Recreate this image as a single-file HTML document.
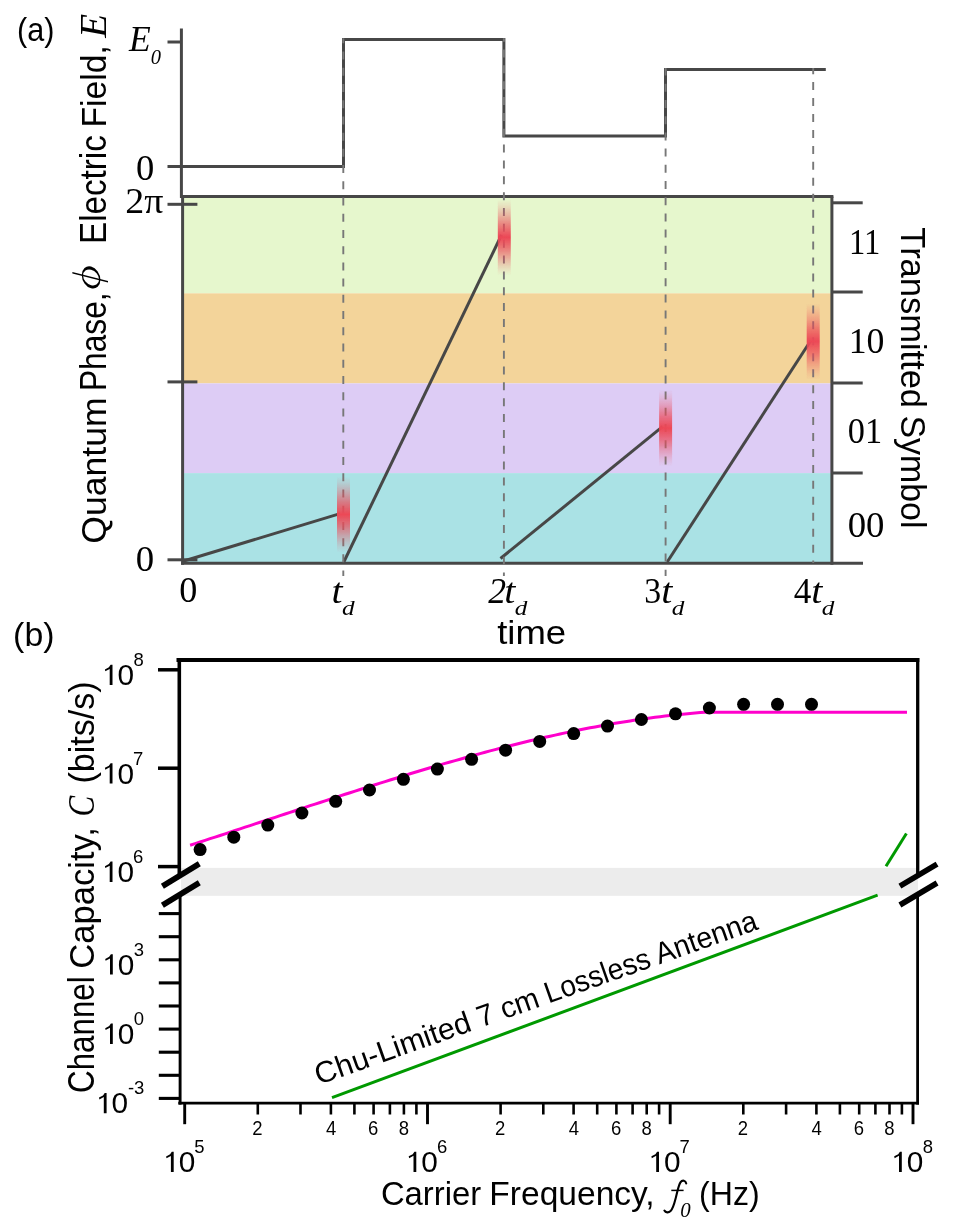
<!DOCTYPE html>
<html><head><meta charset="utf-8"><title>figure</title>
<style>html,body{margin:0;padding:0;background:#fff}svg{display:block}text{font-family:"Liberation Sans",sans-serif}</style>
</head><body>
<svg width="977" height="1221" viewBox="0 0 977 1221">
<defs>
<linearGradient id="rg" x1="0" y1="0" x2="0" y2="1"><stop offset="0" stop-color="#ec4856" stop-opacity="0"/><stop offset="0.1" stop-color="#ec4856" stop-opacity="0.15"/><stop offset="0.2" stop-color="#ec4856" stop-opacity="0.35"/><stop offset="0.35" stop-color="#ec4856" stop-opacity="0.7"/><stop offset="0.5" stop-color="#ec4856" stop-opacity="1.0"/><stop offset="0.65" stop-color="#ec4856" stop-opacity="0.7"/><stop offset="0.8" stop-color="#ec4856" stop-opacity="0.35"/><stop offset="0.9" stop-color="#ec4856" stop-opacity="0.15"/><stop offset="1" stop-color="#ec4856" stop-opacity="0"/></linearGradient>
<filter id="bl" x="-50%" y="-10%" width="200%" height="120%"><feGaussianBlur stdDeviation="0.45 0.1"/></filter>
<clipPath id="boxa"><rect x="182" y="198" width="650" height="365"/></clipPath>
</defs>
<rect x="182" y="196.4" width="650" height="96.9" fill="#e6f7cd"/>
<rect x="182" y="293.3" width="650" height="90.1" fill="#f3d49a"/>
<rect x="182" y="383.4" width="650" height="89.7" fill="#ddccf5"/>
<rect x="182" y="473.1" width="650" height="89.6" fill="#aae2e5"/>
<line x1="183.0" y1="561.3" x2="340.0" y2="513.6" stroke="#474747" stroke-width="3.0"/>
<line x1="343.8" y1="562.0" x2="501.5" y2="235.0" stroke="#474747" stroke-width="3.0"/>
<line x1="500.5" y1="558.5" x2="662.5" y2="426.7" stroke="#474747" stroke-width="3.0"/>
<line x1="667.2" y1="562.0" x2="810.5" y2="341.0" stroke="#474747" stroke-width="3.0"/>
<g stroke="#474747" stroke-width="3.0" fill="none">
<line x1="181.4" y1="28.5" x2="181.4" y2="197.9"/>
<line x1="182.6" y1="195.2" x2="182.6" y2="564.7"/>
<line x1="180" y1="196.5" x2="833.4" y2="196.5"/>
<line x1="831.9" y1="196.5" x2="831.9" y2="564.7"/>
<line x1="181.1" y1="563.2" x2="863" y2="563.2"/>
</g>
<g stroke="#474747" stroke-width="3.0" fill="none">
<line x1="167.5" y1="42" x2="182" y2="42"/>
<polyline points="167.5,166.5 343.5,166.5 343.5,39.5 503.9,39.5 503.9,136 665.5,136 665.5,69.4 825.8,69.4"/>
<line x1="167.5" y1="204.3" x2="197.4" y2="204.3"/>
<line x1="167.5" y1="381.9" x2="197.4" y2="381.9"/>
<line x1="167.5" y1="559.8" x2="197.4" y2="559.8"/>
<line x1="832" y1="202.8" x2="862.7" y2="202.8"/>
<line x1="832" y1="292.0" x2="862.7" y2="292.0"/>
<line x1="832" y1="383.0" x2="862.7" y2="383.0"/>
<line x1="832" y1="473.0" x2="862.7" y2="473.0"/>
</g>
<line x1="343.3" y1="38.2" x2="343.3" y2="576.0" stroke="#777" stroke-width="1.9" stroke-dasharray="8 8.22" stroke-dashoffset="2.88"/>
<line x1="503.9" y1="38.2" x2="503.9" y2="576.0" stroke="#777" stroke-width="1.9" stroke-dasharray="8 7.85" stroke-dashoffset="4.55"/>
<line x1="665.6" y1="68.1" x2="665.6" y2="576.0" stroke="#777" stroke-width="1.9" stroke-dasharray="8 8.20" stroke-dashoffset="0.50"/>
<line x1="813.2" y1="68.1" x2="813.2" y2="563.0" stroke="#777" stroke-width="1.9" stroke-dasharray="8 7.95" stroke-dashoffset="1.95"/>
<rect x="337.0" y="476.5" width="13" height="76" fill="url(#rg)" filter="url(#bl)" clip-path="url(#boxa)"/>
<rect x="497.8" y="199.3" width="13" height="76" fill="url(#rg)" filter="url(#bl)" clip-path="url(#boxa)"/>
<rect x="659.1" y="390.1" width="13" height="76" fill="url(#rg)" filter="url(#bl)" clip-path="url(#boxa)"/>
<rect x="806.7" y="303.4" width="13" height="76" fill="url(#rg)" filter="url(#bl)" clip-path="url(#boxa)"/>
<g transform="translate(91.1,277.45) matrix(1,0.25,0,1,0,0)"><path fill="#000" fill-rule="evenodd" d="M-9.3,0 a9.3,10.9 0 1,0 18.6,0 a9.3,10.9 0 1,0 -18.6,0 Z M-8.0,0 a8.0,7.7 0 1,0 16.0,0 a8.0,7.7 0 1,0 -16.0,0 Z"/><line x1="-18.7" y1="0" x2="16.9" y2="0" stroke="#000" stroke-width="1.5"/></g>
<path d="M686.2,1183.4 C685.6,1180.4 682.4,1179.6 680.6,1182.2 C678.4,1185.4 677.6,1191 676,1197 C674.4,1203.2 673.2,1208.6 670.6,1211 C668.6,1212.9 665.6,1212.8 664.4,1210.6" fill="none" stroke="#000" stroke-width="2.1" stroke-linecap="round"/>
<line x1="671.3" y1="1190.4" x2="683.6" y2="1190.4" stroke="#000" stroke-width="1.5"/>
<rect x="181" y="867.9" width="737" height="27.9" fill="#ececec"/>
<polyline points="190.1,845.2 195.1,843.6 200.1,842.0 205.1,840.4 210.1,838.7 215.1,837.1 220.1,835.5 225.1,833.8 230.1,832.2 235.1,830.5 240.1,828.9 245.1,827.2 250.1,825.6 255.1,823.9 260.1,822.3 265.1,820.6 270.1,819.0 275.1,817.3 280.1,815.6 285.1,814.0 290.1,812.3 295.1,810.7 300.1,809.0 305.1,807.4 310.1,805.7 315.1,804.1 320.1,802.5 325.1,800.8 330.1,799.2 335.1,797.6 340.1,795.9 345.1,794.3 350.1,792.7 355.1,791.1 360.1,789.5 365.1,787.9 370.1,786.3 375.1,784.7 380.1,783.1 385.1,781.6 390.1,780.0 395.1,778.5 400.1,776.9 405.1,775.4 410.1,773.8 415.1,772.3 420.1,770.8 425.1,769.3 430.1,767.8 435.1,766.4 440.1,764.9 445.1,763.4 450.1,762.0 455.1,760.6 460.1,759.2 465.1,757.7 470.1,756.4 475.1,755.0 480.1,753.6 485.1,752.3 490.1,750.9 495.1,749.6 500.1,748.3 505.1,747.0 510.1,745.8 515.1,744.5 520.1,743.3 525.1,742.0 530.1,740.8 535.1,739.6 540.1,738.5 545.1,737.3 550.1,736.2 555.1,735.1 560.1,734.0 565.1,732.9 570.1,731.9 575.1,730.8 580.1,729.8 585.1,728.8 590.1,727.8 595.1,726.9 600.1,726.0 605.1,725.1 610.1,724.2 615.1,723.3 620.1,722.5 625.1,721.7 630.1,720.9 635.1,720.1 640.1,719.4 645.1,718.7 650.1,718.0 655.1,717.3 660.1,716.7 665.1,716.1 670.1,715.5 675.1,714.9 680.1,714.4 685.1,713.9 690.1,713.4 695.1,713.0 700.1,712.6 705,712.3 907,712.3" fill="none" stroke="#ff00cc" stroke-width="3.0" stroke-linejoin="round"/>
<line x1="332" y1="1097.7" x2="877.6" y2="895.2" stroke="#009900" stroke-width="3.0"/>
<line x1="886" y1="866.3" x2="906.4" y2="833.5" stroke="#009900" stroke-width="3.0"/>
<circle cx="200.1" cy="849.6" r="6.5" fill="#000"/>
<circle cx="233.8" cy="837.2" r="6.5" fill="#000"/>
<circle cx="267.8" cy="825.1" r="6.5" fill="#000"/>
<circle cx="301.9" cy="813.0" r="6.5" fill="#000"/>
<circle cx="335.7" cy="801.3" r="6.5" fill="#000"/>
<circle cx="369.5" cy="790.0" r="6.5" fill="#000"/>
<circle cx="403.4" cy="779.3" r="6.5" fill="#000"/>
<circle cx="437.4" cy="769.1" r="6.5" fill="#000"/>
<circle cx="471.6" cy="759.3" r="6.5" fill="#000"/>
<circle cx="505.6" cy="750.2" r="6.5" fill="#000"/>
<circle cx="539.7" cy="741.4" r="6.5" fill="#000"/>
<circle cx="573.7" cy="733.6" r="6.5" fill="#000"/>
<circle cx="607.5" cy="726.1" r="6.5" fill="#000"/>
<circle cx="641.4" cy="719.5" r="6.5" fill="#000"/>
<circle cx="675.5" cy="713.8" r="6.5" fill="#000"/>
<circle cx="709.4" cy="708.0" r="6.5" fill="#000"/>
<circle cx="743.6" cy="704.3" r="6.5" fill="#000"/>
<circle cx="777.5" cy="704.3" r="6.5" fill="#000"/>
<circle cx="811.5" cy="704.3" r="6.5" fill="#000"/>
<g stroke="#000" fill="none">
<line x1="179.3" y1="658" x2="179.3" y2="877" stroke-width="3.6"/>
<line x1="176.5" y1="660" x2="919.3" y2="660" stroke-width="4"/>
<line x1="917.7" y1="658" x2="917.7" y2="876" stroke-width="3.3"/>
<line x1="158" y1="669.8" x2="179.3" y2="669.8" stroke-width="3.5"/>
<line x1="158" y1="768.2" x2="179.3" y2="768.2" stroke-width="3.5"/>
<line x1="158" y1="866.6" x2="179.3" y2="866.6" stroke-width="3.5"/>
<line x1="180.1" y1="894" x2="180.1" y2="1104.6" stroke-width="2.9"/>
<line x1="917.6" y1="893" x2="917.6" y2="1104.6" stroke-width="2.8"/>
<line x1="178.3" y1="1103.2" x2="919" y2="1103.2" stroke-width="2.8"/>
<line x1="158.8" y1="913.6" x2="180.1" y2="913.6" stroke-width="3.1"/>
<line x1="158.8" y1="936.7" x2="180.1" y2="936.7" stroke-width="3.1"/>
<line x1="158.8" y1="959.8" x2="180.1" y2="959.8" stroke-width="3.1"/>
<line x1="158.8" y1="982.9" x2="180.1" y2="982.9" stroke-width="3.1"/>
<line x1="158.8" y1="1006.0" x2="180.1" y2="1006.0" stroke-width="3.1"/>
<line x1="158.8" y1="1029.1" x2="180.1" y2="1029.1" stroke-width="3.1"/>
<line x1="158.8" y1="1052.2" x2="180.1" y2="1052.2" stroke-width="3.1"/>
<line x1="158.8" y1="1075.3" x2="180.1" y2="1075.3" stroke-width="3.1"/>
<line x1="158.8" y1="1098.4" x2="180.1" y2="1098.4" stroke-width="3.1"/>
<line x1="184.7" y1="1103" x2="184.7" y2="1124.2" stroke-width="2.9"/>
<line x1="427.5" y1="1103" x2="427.5" y2="1124.2" stroke-width="2.9"/>
<line x1="670.2" y1="1103" x2="670.2" y2="1124.2" stroke-width="2.9"/>
<line x1="913.0" y1="1103" x2="913.0" y2="1124.2" stroke-width="2.9"/>
<line x1="257.8" y1="1103" x2="257.8" y2="1114.5" stroke-width="2.6"/>
<line x1="300.5" y1="1103" x2="300.5" y2="1114.5" stroke-width="2.6"/>
<line x1="330.9" y1="1103" x2="330.9" y2="1114.5" stroke-width="2.6"/>
<line x1="354.4" y1="1103" x2="354.4" y2="1114.5" stroke-width="2.6"/>
<line x1="373.6" y1="1103" x2="373.6" y2="1114.5" stroke-width="2.6"/>
<line x1="389.9" y1="1103" x2="389.9" y2="1114.5" stroke-width="2.6"/>
<line x1="403.9" y1="1103" x2="403.9" y2="1114.5" stroke-width="2.6"/>
<line x1="416.4" y1="1103" x2="416.4" y2="1114.5" stroke-width="2.6"/>
<line x1="500.6" y1="1103" x2="500.6" y2="1114.5" stroke-width="2.6"/>
<line x1="543.3" y1="1103" x2="543.3" y2="1114.5" stroke-width="2.6"/>
<line x1="573.6" y1="1103" x2="573.6" y2="1114.5" stroke-width="2.6"/>
<line x1="597.2" y1="1103" x2="597.2" y2="1114.5" stroke-width="2.6"/>
<line x1="616.4" y1="1103" x2="616.4" y2="1114.5" stroke-width="2.6"/>
<line x1="632.6" y1="1103" x2="632.6" y2="1114.5" stroke-width="2.6"/>
<line x1="646.7" y1="1103" x2="646.7" y2="1114.5" stroke-width="2.6"/>
<line x1="659.1" y1="1103" x2="659.1" y2="1114.5" stroke-width="2.6"/>
<line x1="743.3" y1="1103" x2="743.3" y2="1114.5" stroke-width="2.6"/>
<line x1="786.1" y1="1103" x2="786.1" y2="1114.5" stroke-width="2.6"/>
<line x1="816.4" y1="1103" x2="816.4" y2="1114.5" stroke-width="2.6"/>
<line x1="839.9" y1="1103" x2="839.9" y2="1114.5" stroke-width="2.6"/>
<line x1="859.2" y1="1103" x2="859.2" y2="1114.5" stroke-width="2.6"/>
<line x1="875.4" y1="1103" x2="875.4" y2="1114.5" stroke-width="2.6"/>
<line x1="889.5" y1="1103" x2="889.5" y2="1114.5" stroke-width="2.6"/>
<line x1="901.9" y1="1103" x2="901.9" y2="1114.5" stroke-width="2.6"/>
</g>
<g stroke="#000" stroke-width="5.7" fill="none">
<line x1="162.40" y1="886.2" x2="199.30" y2="863.8"/>
<line x1="162.40" y1="905.2" x2="199.30" y2="882.8"/>
<line x1="899.90" y1="886.1" x2="937.05" y2="864.1"/>
<line x1="899.90" y1="905.0" x2="937.05" y2="883.0"/>
</g>
<g opacity="0.999">
<g transform="translate(18.90,40.90) rotate(0.00) scale(0.9000,1.0000)" fill="#000"><text x="-2.00" y="0" xml:space="preserve"><tspan font-family="'Liberation Sans', sans-serif" font-size="34" dy="0">(a)</tspan></text></g>
<g transform="translate(15.10,645.90) rotate(0.00) scale(0.9964,1.0000)" fill="#000"><text x="-2.00" y="0" xml:space="preserve"><tspan font-family="'Liberation Sans', sans-serif" font-size="34" dy="0">(b)</tspan></text></g>
<g transform="translate(105.80,241.20) rotate(-90.00) scale(0.9219,1.0000)" fill="#000"><text x="-3.00" y="0" xml:space="preserve"><tspan font-family="'Liberation Sans', sans-serif" font-size="36" dy="0">Electric</tspan></text></g>
<g transform="translate(105.80,124.60) rotate(-90.00) scale(0.9331,1.0000)" fill="#000"><text x="-3.00" y="0" xml:space="preserve"><tspan font-family="'Liberation Sans', sans-serif" font-size="36" dy="0">Field,</tspan></text></g>
<g transform="translate(106.00,38.20) rotate(-90.00) scale(1.0567,1.0000)" fill="#000"><text x="0.33" y="0" xml:space="preserve"><tspan font-family="'Liberation Serif', serif" font-size="37" font-style="italic" dy="0">E</tspan></text></g>
<g transform="translate(106.20,542.10) rotate(-90.00) scale(0.9896,1.0000)" fill="#000"><text x="-1.67" y="0" xml:space="preserve"><tspan font-family="'Liberation Sans', sans-serif" font-size="36" dy="0">Quantum</tspan></text></g>
<g transform="translate(106.20,388.40) rotate(-90.00) scale(0.8811,1.0000)" fill="#000"><text x="-3.00" y="0" xml:space="preserve"><tspan font-family="'Liberation Sans', sans-serif" font-size="36" dy="0">Phase,</tspan></text></g>
<g transform="translate(901.20,228.00) rotate(90.00) scale(0.9576,1.0000)" fill="#000"><text x="-0.67" y="0" xml:space="preserve"><tspan font-family="'Liberation Sans', sans-serif" font-size="36" dy="0">Transmitted</tspan></text></g>
<g transform="translate(901.20,417.00) rotate(90.00) scale(0.9414,1.0000)" fill="#000"><text x="-1.67" y="0" xml:space="preserve"><tspan font-family="'Liberation Sans', sans-serif" font-size="36" dy="0">Symbol</tspan></text></g>
<g transform="translate(497.90,644.20) rotate(0.00) scale(1.1072,1.0000)" fill="#000"><text x="-0.67" y="0" xml:space="preserve"><tspan font-family="'Liberation Sans', sans-serif" font-size="33" dy="0">time</tspan></text></g>
<g transform="translate(128.80,50.60) rotate(0.00) scale(0.9758,1.0000)" fill="#000"><text x="0.33" y="0" xml:space="preserve"><tspan font-family="'Liberation Serif', serif" font-size="36.5" font-style="italic" dy="0">E</tspan><tspan font-family="'Liberation Serif', serif" font-size="21" font-style="italic" dy="13">0</tspan></text></g>
<g transform="translate(137.30,179.70) rotate(0.00) scale(1.0021,1.0000)" fill="#000"><text x="-1.33" y="0" xml:space="preserve"><tspan font-family="'Liberation Serif', serif" font-size="36.5" dy="0">0</tspan></text></g>
<g transform="translate(126.90,213.00) rotate(0.00) scale(1.0398,1.0000)" fill="#000"><text x="-1.67" y="0" xml:space="preserve"><tspan font-family="'Liberation Serif', serif" font-size="36.5" dy="0">2π</tspan></text></g>
<g transform="translate(137.00,570.90) rotate(0.00) scale(1.0085,1.0000)" fill="#000"><text x="-1.33" y="0" xml:space="preserve"><tspan font-family="'Liberation Serif', serif" font-size="36.5" dy="0">0</tspan></text></g>
<g transform="translate(180.50,602.00) rotate(0.00) scale(0.9894,1.0000)" fill="#000"><text x="-1.33" y="0" xml:space="preserve"><tspan font-family="'Liberation Serif', serif" font-size="36.5" dy="0">0</tspan></text></g>
<g transform="translate(333.20,603.30) rotate(0.00) scale(1.0889,1.0000)" fill="#000"><text x="-1.67" y="0" xml:space="preserve"><tspan font-family="'Liberation Serif', serif" font-size="36.5" font-style="italic" dy="0">t</tspan></text></g>
<g transform="translate(342.70,614.50) rotate(0.00) scale(1.2000,1.0000)" fill="#000"><text x="-0.67" y="0" xml:space="preserve"><tspan font-family="'Liberation Serif', serif" font-size="21" font-style="italic" dy="0">d</tspan></text></g>
<g transform="translate(488.20,603.30) rotate(0.00) scale(0.9750,1.0000)" fill="#000"><text x="-0.00" y="0" xml:space="preserve"><tspan font-family="'Liberation Serif', serif" font-size="36.5" font-style="italic" dy="0">2</tspan></text></g>
<g transform="translate(506.10,603.30) rotate(0.00) scale(1.0889,1.0000)" fill="#000"><text x="-1.67" y="0" xml:space="preserve"><tspan font-family="'Liberation Serif', serif" font-size="36.5" font-style="italic" dy="0">t</tspan></text></g>
<g transform="translate(515.60,614.50) rotate(0.00) scale(1.2000,1.0000)" fill="#000"><text x="-0.67" y="0" xml:space="preserve"><tspan font-family="'Liberation Serif', serif" font-size="21" font-style="italic" dy="0">d</tspan></text></g>
<g transform="translate(645.70,603.30) rotate(0.00) scale(0.9267,1.0000)" fill="#000"><text x="-1.67" y="0" xml:space="preserve"><tspan font-family="'Liberation Serif', serif" font-size="36.5" dy="0">3</tspan></text></g>
<g transform="translate(663.10,603.30) rotate(0.00) scale(1.0889,1.0000)" fill="#000"><text x="-1.67" y="0" xml:space="preserve"><tspan font-family="'Liberation Serif', serif" font-size="36.5" font-style="italic" dy="0">t</tspan></text></g>
<g transform="translate(672.60,614.50) rotate(0.00) scale(1.2000,1.0000)" fill="#000"><text x="-0.67" y="0" xml:space="preserve"><tspan font-family="'Liberation Serif', serif" font-size="21" font-style="italic" dy="0">d</tspan></text></g>
<g transform="translate(794.30,603.30) rotate(0.00) scale(0.9647,1.0000)" fill="#000"><text x="-0.67" y="0" xml:space="preserve"><tspan font-family="'Liberation Serif', serif" font-size="36.5" dy="0">4</tspan></text></g>
<g transform="translate(813.00,603.30) rotate(0.00) scale(1.0889,1.0000)" fill="#000"><text x="-1.67" y="0" xml:space="preserve"><tspan font-family="'Liberation Serif', serif" font-size="36.5" font-style="italic" dy="0">t</tspan></text></g>
<g transform="translate(822.50,614.50) rotate(0.00) scale(1.2000,1.0000)" fill="#000"><text x="-0.67" y="0" xml:space="preserve"><tspan font-family="'Liberation Serif', serif" font-size="21" font-style="italic" dy="0">d</tspan></text></g>
<g transform="translate(852.00,254.40) rotate(0.00) scale(0.8933,1.0000)" fill="#000"><text x="-3.33" y="0" xml:space="preserve"><tspan font-family="'Liberation Serif', serif" font-size="36.5" dy="0">11</tspan></text></g>
<g transform="translate(852.00,352.80) rotate(0.00) scale(0.9789,1.0000)" fill="#000"><text x="-3.33" y="0" xml:space="preserve"><tspan font-family="'Liberation Serif', serif" font-size="36.5" dy="0">10</tspan></text></g>
<g transform="translate(849.00,442.50) rotate(0.00) scale(0.9394,1.0000)" fill="#000"><text x="-1.33" y="0" xml:space="preserve"><tspan font-family="'Liberation Serif', serif" font-size="36.5" dy="0">01</tspan></text></g>
<g transform="translate(849.00,537.40) rotate(0.00) scale(1.0069,1.0000)" fill="#000"><text x="-1.33" y="0" xml:space="preserve"><tspan font-family="'Liberation Serif', serif" font-size="36.5" dy="0">00</tspan></text></g>
<g transform="translate(93.90,1091.20) rotate(-90.00) scale(0.8699,1.0000)" fill="#000"><text x="-2.00" y="0" xml:space="preserve"><tspan font-family="'Liberation Sans', sans-serif" font-size="36" dy="0">Channel</tspan></text></g>
<g transform="translate(93.90,966.90) rotate(-90.00) scale(0.9618,1.0000)" fill="#000"><text x="-2.00" y="0" xml:space="preserve"><tspan font-family="'Liberation Sans', sans-serif" font-size="36" dy="0">Capacity,</tspan></text></g>
<g transform="translate(93.90,814.90) rotate(-90.00) scale(0.8348,1.0000)" fill="#000"><text x="-2.00" y="0" xml:space="preserve"><tspan font-family="'Liberation Serif', serif" font-size="37" font-style="italic" dy="0">C</tspan></text></g>
<g transform="translate(93.90,781.40) rotate(-90.00) scale(0.9474,1.0000)" fill="#000"><text x="-2.33" y="0" xml:space="preserve"><tspan font-family="'Liberation Sans', sans-serif" font-size="36" dy="0">(bits/s)</tspan></text></g>
<g transform="translate(382.50,1204.90) rotate(0.00) scale(0.9807,1.0000)" fill="#000"><text x="-1.67" y="0" xml:space="preserve"><tspan font-family="'Liberation Sans', sans-serif" font-size="33.5" dy="0">Carrier</tspan></text></g>
<g transform="translate(492.00,1204.90) rotate(0.00) scale(1.0023,1.0000)" fill="#000"><text x="-2.67" y="0" xml:space="preserve"><tspan font-family="'Liberation Sans', sans-serif" font-size="33.5" dy="0">Frequency,</tspan></text></g>
<g transform="translate(681.00,1217.10) rotate(0.00) scale(0.9931,1.0000)" fill="#000"><text x="-0.67" y="0" xml:space="preserve"><tspan font-family="'Liberation Serif', serif" font-size="21" font-style="italic" dy="0">0</tspan></text></g>
<g transform="translate(701.00,1204.90) rotate(0.00) scale(0.9576,1.0000)" fill="#000"><text x="-2.00" y="0" xml:space="preserve"><tspan font-family="'Liberation Sans', sans-serif" font-size="33.5" dy="0">(Hz)</tspan></text></g>
<g transform="translate(320.40,1084.40) rotate(-19.50) scale(1.0133,1.0000)" fill="#000"><text x="-1.67" y="0" xml:space="preserve"><tspan font-family="'Liberation Sans', sans-serif" font-size="30" dy="0">Chu-Limited</tspan></text></g>
<g transform="translate(482.53,1026.99) rotate(-19.50) scale(0.9848,1.0000)" fill="#000"><text x="-1.67" y="0" xml:space="preserve"><tspan font-family="'Liberation Sans', sans-serif" font-size="30" dy="0">7 cm</tspan></text></g>
<g transform="translate(550.69,1002.85) rotate(-19.50) scale(0.9459,1.0000)" fill="#000"><text x="-2.33" y="0" xml:space="preserve"><tspan font-family="'Liberation Sans', sans-serif" font-size="30" dy="0">Lossless</tspan></text></g>
<g transform="translate(659.33,964.38) rotate(-19.50) scale(0.9515,1.0000)" fill="#000"><text x="-0.00" y="0" xml:space="preserve"><tspan font-family="'Liberation Sans', sans-serif" font-size="30" dy="0">Antenna</tspan></text></g>
<g transform="translate(118.50,685.10) rotate(0.00) scale(1.0463,1.0300)" fill="#000"><text x="-1.00" y="0" xml:space="preserve"><tspan font-family="'Liberation Sans', sans-serif" font-size="28.5" dy="0">0</tspan></text></g>
<g transform="translate(134.10,666.20) rotate(0.00) scale(1.0000,1.0300)" fill="#000"><text x="-0.67" y="0" xml:space="preserve"><tspan font-family="'Liberation Sans', sans-serif" font-size="18.5" dy="0">8</tspan></text></g>
<g transform="translate(118.50,783.50) rotate(0.00) scale(1.0463,1.0300)" fill="#000"><text x="-1.00" y="0" xml:space="preserve"><tspan font-family="'Liberation Sans', sans-serif" font-size="28.5" dy="0">0</tspan></text></g>
<g transform="translate(134.10,764.60) rotate(0.00) scale(1.0000,1.0300)" fill="#000"><text x="-1.00" y="0" xml:space="preserve"><tspan font-family="'Liberation Sans', sans-serif" font-size="18.5" dy="0">7</tspan></text></g>
<g transform="translate(118.50,881.90) rotate(0.00) scale(1.0463,1.0300)" fill="#000"><text x="-1.00" y="0" xml:space="preserve"><tspan font-family="'Liberation Sans', sans-serif" font-size="28.5" dy="0">0</tspan></text></g>
<g transform="translate(134.10,863.00) rotate(0.00) scale(1.0000,1.0300)" fill="#000"><text x="-1.00" y="0" xml:space="preserve"><tspan font-family="'Liberation Sans', sans-serif" font-size="18.5" dy="0">6</tspan></text></g>
<g transform="translate(118.80,974.60) rotate(0.00) scale(1.0463,1.0300)" fill="#000"><text x="-1.00" y="0" xml:space="preserve"><tspan font-family="'Liberation Sans', sans-serif" font-size="28.5" dy="0">0</tspan></text></g>
<g transform="translate(134.40,955.70) rotate(0.00) scale(1.0000,1.0300)" fill="#000"><text x="-0.67" y="0" xml:space="preserve"><tspan font-family="'Liberation Sans', sans-serif" font-size="18.5" dy="0">3</tspan></text></g>
<g transform="translate(118.80,1043.90) rotate(0.00) scale(1.0463,1.0300)" fill="#000"><text x="-1.00" y="0" xml:space="preserve"><tspan font-family="'Liberation Sans', sans-serif" font-size="28.5" dy="0">0</tspan></text></g>
<g transform="translate(134.40,1025.00) rotate(0.00) scale(1.0000,1.0300)" fill="#000"><text x="-0.67" y="0" xml:space="preserve"><tspan font-family="'Liberation Sans', sans-serif" font-size="18.5" dy="0">0</tspan></text></g>
<g transform="translate(112.60,1113.20) rotate(0.00) scale(1.0463,1.0300)" fill="#000"><text x="-1.00" y="0" xml:space="preserve"><tspan font-family="'Liberation Sans', sans-serif" font-size="28.5" dy="0">0</tspan></text></g>
<g transform="translate(128.60,1094.30) rotate(0.00) scale(1.0000,1.0300)" fill="#000"><text x="-0.67" y="0" xml:space="preserve"><tspan font-family="'Liberation Sans', sans-serif" font-size="18.5" dy="0">-3</tspan></text></g>
<g transform="translate(179.70,1172.10) rotate(0.00) scale(1.0463,1.0300)" fill="#000"><text x="-1.00" y="0" xml:space="preserve"><tspan font-family="'Liberation Sans', sans-serif" font-size="28.5" dy="0">0</tspan></text></g>
<g transform="translate(195.30,1153.20) rotate(0.00) scale(1.0000,1.0300)" fill="#000"><text x="-1.00" y="0" xml:space="preserve"><tspan font-family="'Liberation Sans', sans-serif" font-size="18.5" dy="0">5</tspan></text></g>
<g transform="translate(422.30,1172.00) rotate(0.00) scale(1.0463,1.0300)" fill="#000"><text x="-1.00" y="0" xml:space="preserve"><tspan font-family="'Liberation Sans', sans-serif" font-size="28.5" dy="0">0</tspan></text></g>
<g transform="translate(437.90,1153.10) rotate(0.00) scale(1.0000,1.0300)" fill="#000"><text x="-1.00" y="0" xml:space="preserve"><tspan font-family="'Liberation Sans', sans-serif" font-size="18.5" dy="0">6</tspan></text></g>
<g transform="translate(665.00,1172.00) rotate(0.00) scale(1.0463,1.0300)" fill="#000"><text x="-1.00" y="0" xml:space="preserve"><tspan font-family="'Liberation Sans', sans-serif" font-size="28.5" dy="0">0</tspan></text></g>
<g transform="translate(680.60,1153.10) rotate(0.00) scale(1.0000,1.0300)" fill="#000"><text x="-1.00" y="0" xml:space="preserve"><tspan font-family="'Liberation Sans', sans-serif" font-size="18.5" dy="0">7</tspan></text></g>
<g transform="translate(907.80,1172.00) rotate(0.00) scale(1.0463,1.0300)" fill="#000"><text x="-1.00" y="0" xml:space="preserve"><tspan font-family="'Liberation Sans', sans-serif" font-size="28.5" dy="0">0</tspan></text></g>
<g transform="translate(923.40,1153.10) rotate(0.00) scale(1.0000,1.0300)" fill="#000"><text x="-0.67" y="0" xml:space="preserve"><tspan font-family="'Liberation Sans', sans-serif" font-size="18.5" dy="0">8</tspan></text></g>
<g transform="translate(253.28,1135.40) rotate(0.00) scale(1.0000,1.0700)" fill="#000"><text x="-1.00" y="0" xml:space="preserve"><tspan font-family="'Liberation Sans', sans-serif" font-size="18.5" dy="0">2</tspan></text></g>
<g transform="translate(326.36,1135.40) rotate(0.00) scale(1.0000,1.0700)" fill="#000"><text x="-0.33" y="0" xml:space="preserve"><tspan font-family="'Liberation Sans', sans-serif" font-size="18.5" dy="0">4</tspan></text></g>
<g transform="translate(369.11,1135.40) rotate(0.00) scale(1.0000,1.0700)" fill="#000"><text x="-1.00" y="0" xml:space="preserve"><tspan font-family="'Liberation Sans', sans-serif" font-size="18.5" dy="0">6</tspan></text></g>
<g transform="translate(399.44,1135.40) rotate(0.00) scale(1.0000,1.0700)" fill="#000"><text x="-0.67" y="0" xml:space="preserve"><tspan font-family="'Liberation Sans', sans-serif" font-size="18.5" dy="0">8</tspan></text></g>
<g transform="translate(496.05,1135.40) rotate(0.00) scale(1.0000,1.0700)" fill="#000"><text x="-1.00" y="0" xml:space="preserve"><tspan font-family="'Liberation Sans', sans-serif" font-size="18.5" dy="0">2</tspan></text></g>
<g transform="translate(569.13,1135.40) rotate(0.00) scale(1.0000,1.0700)" fill="#000"><text x="-0.33" y="0" xml:space="preserve"><tspan font-family="'Liberation Sans', sans-serif" font-size="18.5" dy="0">4</tspan></text></g>
<g transform="translate(611.88,1135.40) rotate(0.00) scale(1.0000,1.0700)" fill="#000"><text x="-1.00" y="0" xml:space="preserve"><tspan font-family="'Liberation Sans', sans-serif" font-size="18.5" dy="0">6</tspan></text></g>
<g transform="translate(642.21,1135.40) rotate(0.00) scale(1.0000,1.0700)" fill="#000"><text x="-0.67" y="0" xml:space="preserve"><tspan font-family="'Liberation Sans', sans-serif" font-size="18.5" dy="0">8</tspan></text></g>
<g transform="translate(738.82,1135.40) rotate(0.00) scale(1.0000,1.0700)" fill="#000"><text x="-1.00" y="0" xml:space="preserve"><tspan font-family="'Liberation Sans', sans-serif" font-size="18.5" dy="0">2</tspan></text></g>
<g transform="translate(811.90,1135.40) rotate(0.00) scale(1.0000,1.0700)" fill="#000"><text x="-0.33" y="0" xml:space="preserve"><tspan font-family="'Liberation Sans', sans-serif" font-size="18.5" dy="0">4</tspan></text></g>
<g transform="translate(854.65,1135.40) rotate(0.00) scale(1.0000,1.0700)" fill="#000"><text x="-1.00" y="0" xml:space="preserve"><tspan font-family="'Liberation Sans', sans-serif" font-size="18.5" dy="0">6</tspan></text></g>
<g transform="translate(884.98,1135.40) rotate(0.00) scale(1.0000,1.0700)" fill="#000"><text x="-0.67" y="0" xml:space="preserve"><tspan font-family="'Liberation Sans', sans-serif" font-size="18.5" dy="0">8</tspan></text></g>
<polygon fill="#000" points="110.60,664.80 112.50,664.80 112.50,685.10 109.70,685.10 109.70,668.90 105.30,671.30 104.90,669.40 108.90,667.30"/>
<polygon fill="#000" points="110.60,763.20 112.50,763.20 112.50,783.50 109.70,783.50 109.70,767.30 105.30,769.70 104.90,767.80 108.90,765.70"/>
<polygon fill="#000" points="110.60,861.60 112.50,861.60 112.50,881.90 109.70,881.90 109.70,865.70 105.30,868.10 104.90,866.20 108.90,864.10"/>
<polygon fill="#000" points="110.90,954.30 112.80,954.30 112.80,974.60 110.00,974.60 110.00,958.40 105.60,960.80 105.20,958.90 109.20,956.80"/>
<polygon fill="#000" points="110.90,1023.60 112.80,1023.60 112.80,1043.90 110.00,1043.90 110.00,1027.70 105.60,1030.10 105.20,1028.20 109.20,1026.10"/>
<polygon fill="#000" points="104.70,1092.90 106.60,1092.90 106.60,1113.20 103.80,1113.20 103.80,1097.00 99.40,1099.40 99.00,1097.50 103.00,1095.40"/>
<polygon fill="#000" points="171.80,1151.80 173.70,1151.80 173.70,1172.10 170.90,1172.10 170.90,1155.90 166.50,1158.30 166.10,1156.40 170.10,1154.30"/>
<polygon fill="#000" points="414.40,1151.70 416.30,1151.70 416.30,1172.00 413.50,1172.00 413.50,1155.80 409.10,1158.20 408.70,1156.30 412.70,1154.20"/>
<polygon fill="#000" points="657.10,1151.70 659.00,1151.70 659.00,1172.00 656.20,1172.00 656.20,1155.80 651.80,1158.20 651.40,1156.30 655.40,1154.20"/>
<polygon fill="#000" points="899.90,1151.70 901.80,1151.70 901.80,1172.00 899.00,1172.00 899.00,1155.80 894.60,1158.20 894.20,1156.30 898.20,1154.20"/>
</g>
</svg>
</body></html>
